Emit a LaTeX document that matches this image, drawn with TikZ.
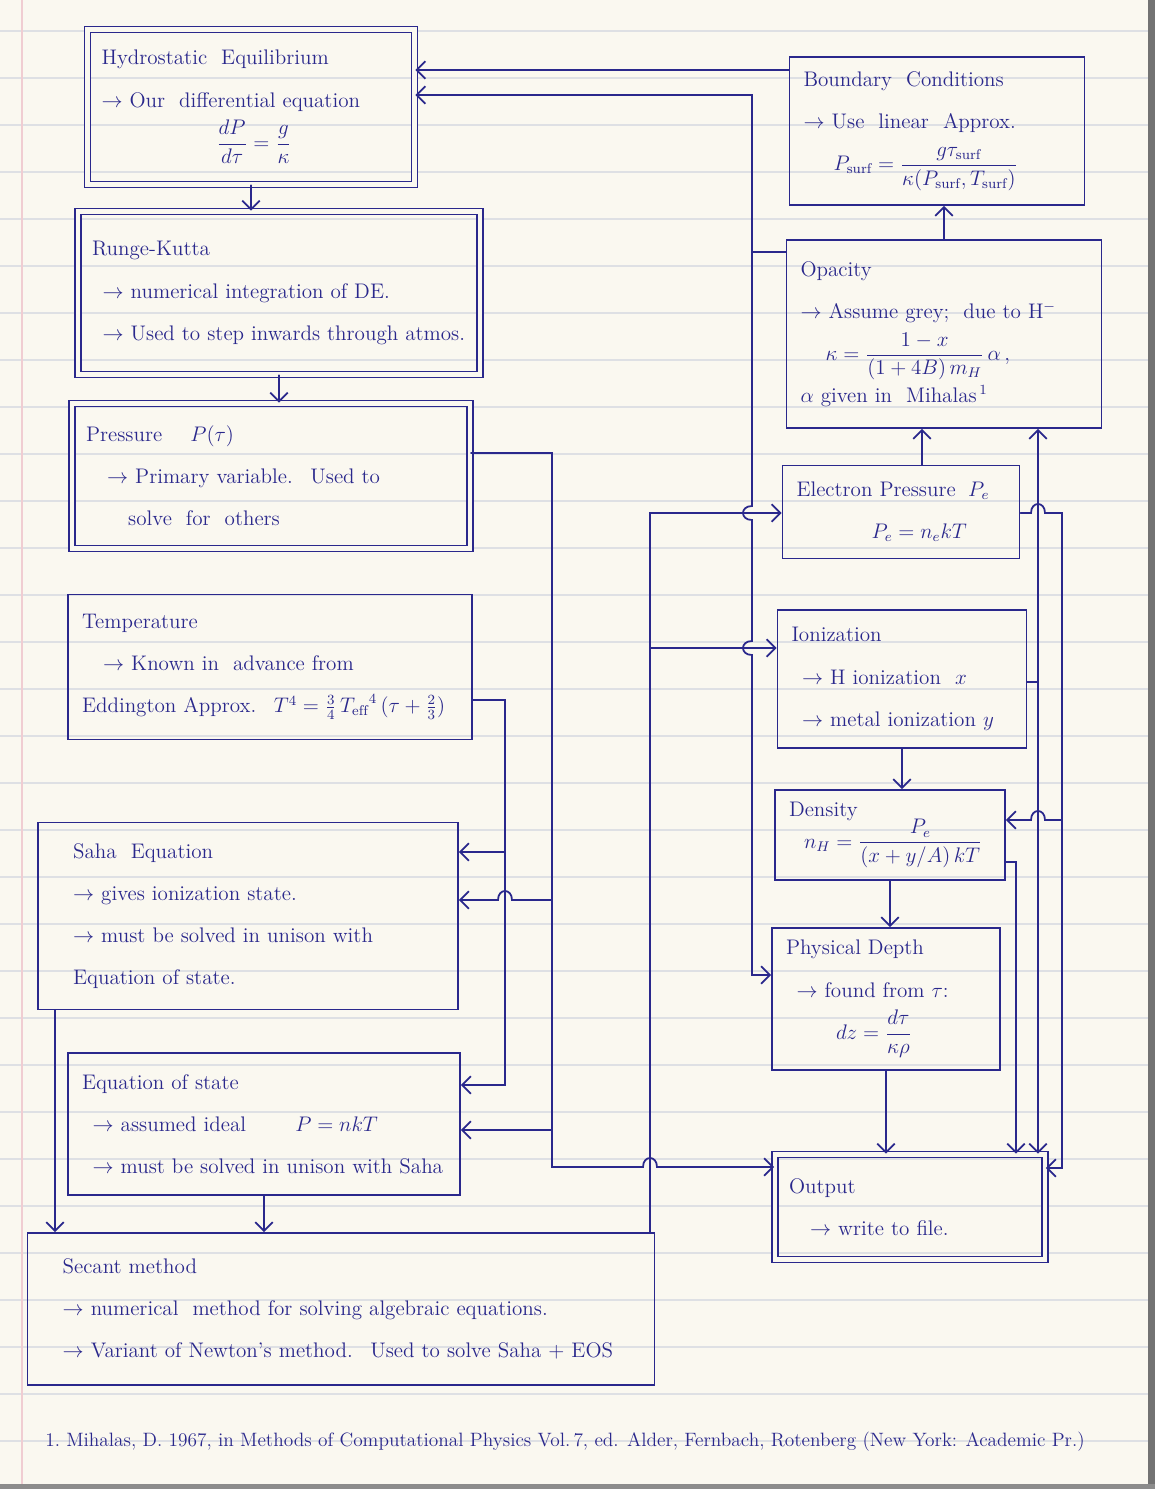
\documentclass[tikz,border=0pt]{standalone}
\usepackage{amsmath,amssymb}
\usepackage{fontspec}
\usepackage{xcolor}
\usepackage{tikz}
\usetikzlibrary{arrows.meta}

\definecolor{ink}{RGB}{42,40,140}
\definecolor{paper}{RGB}{250,248,240}
\definecolor{ruling}{RGB}{222,224,228}
\definecolor{margin}{RGB}{240,205,210}

\begin{document}
\begin{tikzpicture}[x=0.02cm, y=-0.02cm,
    box/.style={draw=ink, line width=1pt, text=ink, align=left, inner xsep=8pt,
        font=\fontsize{12}{24}\selectfont},
    dbox/.style={box, double=paper, double distance=2.5pt},
    link/.style={draw=ink, line width=1pt, line cap=round},
    >={Straight Barb[length=5pt,width=10pt]}]
        \useasboundingbox (0,0) rectangle (1155,1489);

        % notebook paper
        \fill[paper] (0,0) rectangle (1155,1489);
        \foreach \y in {31,78,...,1480} \draw[ruling, line width=0.6pt] (0,\y) -- (1148,\y);
        \draw[margin, line width=0.6pt] (22,0) -- (22,1489);
        \fill[black!55] (1148,0) rectangle (1155,1489);
        \fill[black!45] (0,1484) rectangle (1155,1489);

        % left column
        \node[dbox, text width=5.98cm, minimum height=3.10cm] (hydro) at (251,107) {Hydrostatic \ Equilibrium\\
            $\rightarrow$ Our \ differential equation\\
            \hspace*{2.3cm}$\dfrac{dP}{d\tau}=\dfrac{g}{\kappa}$};
        \node[dbox, text width=7.48cm, minimum height=3.26cm] (rk) at (279,293) {Runge-Kutta\\
            \enspace$\rightarrow$ numerical integration of DE.\\
            \enspace$\rightarrow$ Used to step inwards through atmos.};
        \node[dbox, text width=7.40cm, minimum height=2.90cm] (press) at (271,476) {Pressure \quad $P(\tau)$\\
            \quad$\rightarrow$ Primary variable. \ Used to\\
            \qquad solve \ for \ others};
        \node[box, text width=7.52cm, minimum height=2.90cm] (temp) at (270,667) {Temperature\\
            \quad$\rightarrow$ Known in \ advance from\\
            \mbox{Eddington Approx. \ $T^4=\frac{3}{4}\,{T_{\mathrm{eff}}}^{4}\,(\tau+\frac{2}{3})$}};
        \node[box, text width=7.84cm, minimum height=3.74cm] (saha) at (248,916) {\quad Saha \ Equation\\
            \quad$\rightarrow$ gives ionization state.\\
            \quad$\rightarrow$ must be solved in unison with\\
            \quad Equation of state.};
        \node[box, text width=7.28cm, minimum height=2.84cm] (eos) at (264,1124) {Equation of state\\
            \enspace$\rightarrow$ assumed ideal \qquad $P=nkT$\\
            \enspace$\rightarrow$ must be solved in unison with Saha};
        \node[box, text width=11.98cm, minimum height=3.04cm] (secant) at (341,1309) {\quad Secant method\\
            \quad$\rightarrow$ numerical \ method for solving algebraic equations.\\
            \quad$\rightarrow$ Variant of Newton's method. \ Used to solve Saha + EOS};

        % right column
        \node[box, text width=5.34cm, minimum height=2.96cm] (bc) at (937,131) {Boundary \ Conditions\\
            $\rightarrow$ Use \ linear \ Approx.\\
            \hspace*{0.6cm}$P_{\mathrm{surf}}=\dfrac{g\tau_{\mathrm{surf}}}{\kappa(P_{\mathrm{surf}},T_{\mathrm{surf}})}$};
        \node[box, text width=5.74cm, minimum height=3.76cm] (opac) at (944,334) {Opacity\\
            $\rightarrow$ Assume grey; \ due to H$^-$\\
            \hspace*{0.5cm}$\kappa=\dfrac{1-x}{(1+4B)\,m_H}\,\alpha$\,,\\
            $\alpha$ given in \ Mihalas$^{\,1}$};
        \node[box, text width=4.18cm, minimum height=1.86cm] (ep) at (901,512) {Electron Pressure\hspace{0.25cm}$P_e$\\
            \hspace*{1.5cm}$P_e=n_ekT$};
        \node[box, text width=4.42cm, minimum height=2.76cm] (ion) at (902,679) {Ionization\\
            \enspace$\rightarrow$ H ionization \ $x$\\
            \enspace$\rightarrow$ metal ionization $y$};
        \node[box, text width=4.04cm, minimum height=1.80cm] (dens) at (890,835) {Density\\[-6pt]
            \hspace*{0.3cm}$n_H=\dfrac{P_e}{(x+y/A)\,kT}$};
        \node[box, text width=4.00cm, minimum height=2.84cm] (depth) at (886,999) {Physical Depth\\
            \enspace$\rightarrow$ found from $\tau$:\\
            \hspace*{1cm}$dz=\dfrac{d\tau}{\kappa\rho}$};
        \node[dbox, text width=4.84cm, minimum height=2.10cm] (out) at (910,1207) {Output\\
            \quad$\rightarrow$ write to file.};

        % footnote
        \node[text=ink, font=\fontsize{11}{13}\selectfont] (note) at (565,1442) {1.\ Mihalas, D. 1967, in Methods of Computational Physics Vol.\,7, ed. Alder, Fernbach, Rotenberg (New York: Academic Pr.)};

        % main sequence
        \draw[link, ->] (hydro.south) -- (hydro.south |- rk.north);
        \draw[link, ->] (rk.south) -- (rk.south |- press.north);
        \draw[link, ->] (saha.south -| 55,0) -- (secant.north -| 55,0);
        \draw[link, ->] (eos.south) -- (eos.south |- secant.north);

        % feedback into hydrostatic equilibrium
        \draw[link, ->] (bc.west |- 0,70) -- (hydro.east |- 0,70);
        \draw[link, ->] (opac.west |- 0,252) -| (752,95) -- (hydro.east |- 0,95);
        \draw[link, ->] (752,252) -- (752,506) .. controls (740,506) and (740,520) .. (752,520)
            -- (752,641) .. controls (740,641) and (740,655) .. (752,655)
            -- (752,975) -- (depth.west |- 0,975);

        % pressure feeds
        \draw[link, ->] (press.east |- 0,453) -| (552,1167) -- (643,1167)
            .. controls (643,1155) and (657,1155) .. (657,1167) -- (out.west |- 0,1167);
        \draw[link, ->] (552,900) -- (512,900) .. controls (512,888) and (498,888) .. (498,900) -- (saha.east |- 0,900);
        \draw[link, ->] (552,1130) -- (eos.east |- 0,1130);

        % temperature feeds
        \draw[link, ->] (temp.east |- 0,700) -| (505,1085) -- (eos.east |- 0,1085);
        \draw[link, ->] (505,852) -- (saha.east |- 0,852);

        % secant results
        \draw[link, ->] (secant.north -| 650,0) -- (650,513) -- (ep.west |- 0,513);
        \draw[link, ->] (650,648) -- (ion.west |- 0,648);

        % right column chain
        \draw[link, ->] (opac.north) -- (opac.north |- bc.south);
        \draw[link, ->] (ep.north -| 922,0) -- (opac.south -| 922,0);
        \draw[link, ->] (ion.south) -- (ion.south |- dens.north);
        \draw[link, ->] (dens.south) -- (dens.south |- depth.north);
        \draw[link, ->] (depth.south) -- (depth.south |- out.north);

        % ionization to opacity and output
        \draw[link, ->] (ion.east |- 0,682) -- (1038,682) -- (opac.south -| 1038,0);
        \draw[link, ->] (1038,682) -- (out.north -| 1038,0);

        % electron pressure to density and output
        \draw[link, ->] (ep.east |- 0,513) -- (1031,513) .. controls (1031,501) and (1045,501) .. (1045,513)
            -- (1062,513) -- (1062,1168) -- (out.east |- 0,1168);
        \draw[link, ->] (1062,820) -- (1045,820) .. controls (1045,808) and (1031,808) .. (1031,820) -- (dens.east |- 0,820);

        % density to output
        \draw[link, ->] (dens.east |- 0,862) -- (1016,862) -- (out.north -| 1016,0);
\end{tikzpicture}
\end{document}
